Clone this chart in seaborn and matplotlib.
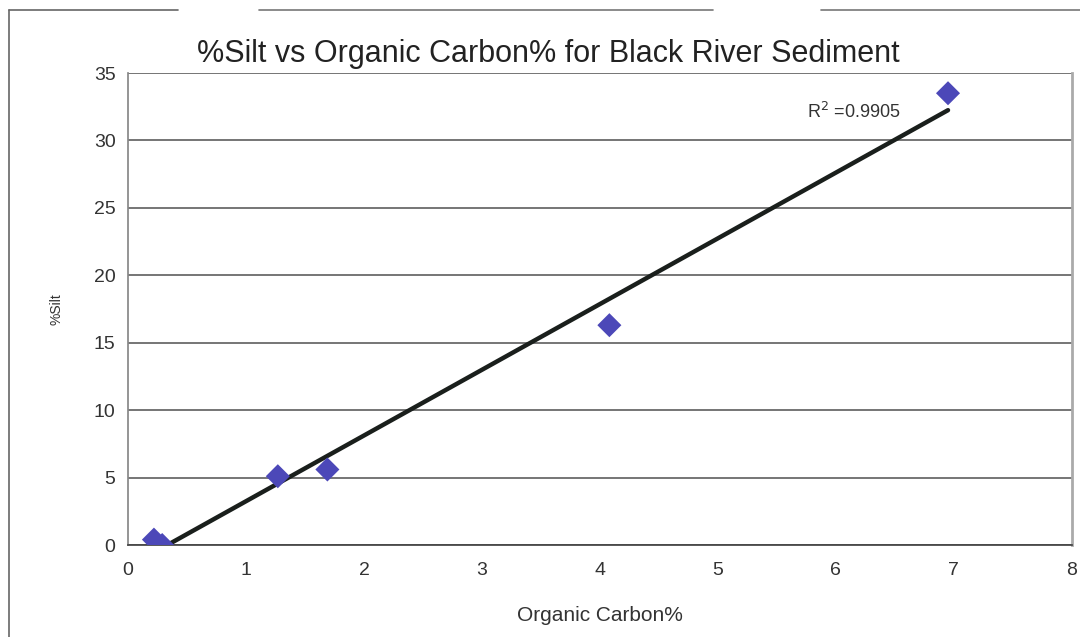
import numpy as np
import pandas as pd
import matplotlib
matplotlib.use("Agg")
import matplotlib.pyplot as plt
import seaborn as sns

organic_carbon = [0.22, 0.29, 1.27, 1.69, 4.08, 6.95]
silt_pct = [0.4, 0.0, 5.1, 5.6, 16.3, 33.5]
x_ticks = [0, 1, 2, 3, 4, 5, 6, 7, 8]
y_ticks = [0, 5, 10, 15, 20, 25, 30, 35]
r2_label = "R$^2$ =0.9905"

df = pd.DataFrame({"oc": organic_carbon, "silt": silt_pct})

sns.set_theme(style="white")
plt.rcParams["font.family"] = ["Liberation Sans", "DejaVu Sans"]

fig = plt.figure(figsize=(10.8, 6.37), dpi=100)
ax = fig.add_axes([0.1185, 0.1444, 0.874, 0.741])

sns.regplot(data=df, x="oc", y="silt", ax=ax, ci=None, marker="D",
            scatter_kws=dict(s=150, color="#4c48b8", edgecolor="none", zorder=4, alpha=1),
            line_kws=dict(color="#1a1f1c", lw=3.2, zorder=3))

ax.set_xlim(0, 8)
ax.set_ylim(0, 35)
ax.set_xticks(x_ticks)
ax.set_yticks(y_ticks)
ax.yaxis.grid(True, color="#505050", lw=1.1)
ax.xaxis.grid(False)
ax.spines["top"].set_visible(False)
ax.spines["left"].set_color("#888888")
ax.spines["bottom"].set_color("#444444")
ax.spines["right"].set_color("#aaaaaa")
ax.spines["right"].set_linewidth(2)
ax.tick_params(axis="both", labelsize=14, colors="#333333", length=5)
ax.tick_params(axis="x", direction="in", pad=12)
ax.tick_params(axis="y", direction="out", pad=4)
ax.set_xlabel("Organic Carbon%", fontsize=15, color="#333333", labelpad=20)
ax.set_ylabel("%Silt", fontsize=10, color="#333333", labelpad=22)
ax.set_title("%Silt vs Organic Carbon% for Black River Sediment", fontsize=22,
             color="#222222", pad=8, x=0.445)
ax.text(6.55, 32.1, r2_label, fontsize=13, color="#333333", ha="right", va="center")

# outer chart frame (scanned border)
fig.add_artist(plt.Line2D([0.008, 0.008], [0.0, 0.985], color="#666666", lw=1.2))
fig.add_artist(plt.Line2D([0.008, 0.165], [0.985, 0.985], color="#666666", lw=1.2))
fig.add_artist(plt.Line2D([0.24, 0.66], [0.985, 0.985], color="#777777", lw=1.2))
fig.add_artist(plt.Line2D([0.76, 1.0], [0.985, 0.985], color="#777777", lw=1.2))

fig.savefig("out.png", dpi=100, facecolor="white")
